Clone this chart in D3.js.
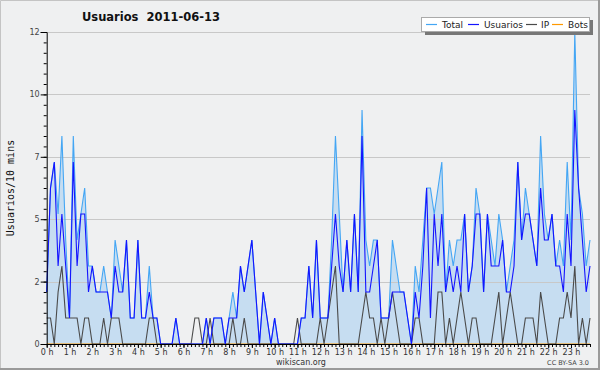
<!DOCTYPE html>
<html><head><meta charset="utf-8">
<script src="https://cdn.jsdelivr.net/npm/d3@7"></script>
<style>
html,body{margin:0;padding:0;background:#eff0f1;}
svg{display:block;}
</style></head>
<body>
<svg id="c" width="600" height="370"></svg>
<script>
const title = "Usuarios  2011-06-13";
const yLabel = "Usuarios/10 mins";
const hourLabels = d3.range(24).map(h => h + " h");
const yTickValues = [0, 2.4, 4.8, 7.2, 9.6, 12];
const yTickLabels = ["0", "2", "5", "7", "10", "12"];
const seriesNames = ["Total", "Usuarios", "IP", "Bots"];
const seriesColors = ["#44a6f4", "#1414ff", "#4a4a4a", "#ff9900"];

const total = [2,6,7,5,8,4,1,8,4,5,6,3,3,2,2,3,2,1,4,3,2,4,1,1,4,1,1,3,1,1,
0,0,0,0,1,0,0,0,0,0,0,0,1,0,1,1,1,0,1,2,1,3,2,3,4,2,0,2,1,0,
1,0,0,0,0,0,0,1,1,3,1,4,1,1,1,4,8,5,2,4,2,5,2,9,4,3,4,4,1,1,
1,4,3,2,2,1,0,3,2,4,6,6,5,6,7,2,4,3,4,4,5,2,3,6,5,2,5,4,3,5,
4,2,3,4,7,4,6,5,4,3,8,5,4,5,3,4,3,7,4,12,6,5,3,4];
const usuarios = [2,6,7,3,5,3,1,7,3,5,5,2,3,2,2,2,2,1,3,2,2,4,1,1,4,1,1,2,1,1,
0,0,0,0,1,0,0,0,0,0,0,0,1,0,1,1,1,0,1,1,1,3,2,3,4,2,0,2,1,0,
1,0,0,0,0,0,0,1,1,3,1,4,1,1,1,3,5,3,2,4,2,5,2,8,2,2,3,4,1,1,
1,2,2,2,2,1,0,2,1,3,6,1,5,3,5,2,3,2,3,2,5,2,3,5,5,2,5,3,3,3,
4,2,2,3,7,4,5,5,4,3,6,4,4,5,3,3,2,5,3,9,6,4,2,3];
const ip = [1,1,0,2,3,1,1,1,1,0,1,1,0,0,0,1,0,1,1,1,0,0,0,0,0,0,0,1,1,0,
0,0,0,0,0,0,0,0,0,1,1,0,0,1,0,0,0,0,0,1,0,0,1,0,0,0,0,0,0,0,
0,0,0,0,0,0,1,0,0,0,0,0,1,0,1,2,3,0,0,0,0,0,0,1,2,1,1,0,1,0,
1,2,1,0,0,0,0,1,1,0,0,0,0,2,2,0,1,0,1,2,1,0,1,1,0,0,0,0,1,2,
0,1,2,1,0,0,1,1,1,0,2,1,0,0,0,1,1,2,1,3,0,1,0,1];
const bots = total.map(() => 0);

const svg = d3.select("#c");
const W = 600, H = 370;
const x0 = 46.7, x1 = 590, yTop = 32, yBot = 344;
const x = d3.scaleLinear().domain([0, total.length - 1]).range([x0, x1]);
const y = d3.scaleLinear().domain([0, 12]).range([yBot, yTop]);

// frame
svg.append("rect").attr("x", 0).attr("y", 0).attr("width", W).attr("height", H).attr("fill", "#eff0f1");
svg.append("path").attr("d", `M0.5,${H}V0.5H${W}`).attr("fill", "none").attr("stroke", "#c4c4c4");
svg.append("path").attr("d", `M0,${H - 1}H${W - 1}V0`).attr("fill", "none").attr("stroke", "#9a9a9a").attr("stroke-width", 2);

// area fill
svg.append("path").datum(total)
  .attr("d", d3.area().x((d, i) => x(i)).y0(y(0)).y1(d => y(d)))
  .attr("fill", "#c6ddf1");

// grid lines
svg.append("g").selectAll("line").data(yTickValues.slice(1)).join("line")
  .attr("x1", x0).attr("x2", x1).attr("y1", d => Math.round(y(d)) + 0.5).attr("y2", d => Math.round(y(d)) + 0.5)
  .attr("stroke", "#c8c8c8").attr("stroke-width", 1);

const line = d3.line().x((d, i) => x(i)).y(d => y(d));
const seriesData = [total, usuarios, ip, bots];
[3, 0, 2, 1].forEach(k => {
  svg.append("path").datum(seriesData[k]).attr("d", line)
    .attr("fill", "none").attr("stroke", seriesColors[k]).attr("stroke-width", 1.1)
    .attr("stroke-linejoin", "miter");
});

// y axis
const yAxis = d3.axisLeft(y).tickValues(yTickValues)
  .tickFormat((d, i) => yTickLabels[i]).tickSize(6).tickPadding(1);
const gy = svg.append("g").attr("transform", `translate(${x0},0)`).call(yAxis);
gy.select(".domain").attr("stroke", "#000");
gy.selectAll(".tick line").attr("stroke", "#000");
gy.selectAll("text").attr("font-family", "DejaVu Sans").attr("font-size", 8).attr("fill", "#444");
const yMinor = d3.axisLeft(y).tickValues(d3.range(0, 12.01, 0.4)).tickFormat("").tickSize(3);
const gym = svg.append("g").attr("transform", `translate(${x0},0)`).call(yMinor);
gym.select(".domain").remove();
gym.selectAll(".tick line").attr("stroke", "#000");

// x axis
const xAxis = d3.axisBottom(x).tickValues(d3.range(0, 144, 6))
  .tickFormat((d, i) => hourLabels[i]).tickSize(4).tickPadding(1);
const gx = svg.append("g").attr("transform", `translate(0,${yBot})`).call(xAxis);
gx.select(".domain").attr("stroke", "#000").attr("d", `M${x0},0.5H${x1}`);
gx.selectAll(".tick line").attr("stroke", "#000");
gx.selectAll("text").attr("font-family", "DejaVu Sans").attr("font-size", 8).attr("fill", "#333");
const xMinor = d3.axisBottom(x).tickValues(d3.range(0, 144, 1)).tickFormat("").tickSize(3);
const gxm = svg.append("g").attr("transform", `translate(0,${yBot})`).call(xMinor);
gxm.select(".domain").remove();
gxm.selectAll(".tick line").attr("stroke", "#000");

// title
svg.append("text").attr("x", 151).attr("y", 21).attr("text-anchor", "middle")
  .attr("font-family", "DejaVu Sans").attr("font-weight", "bold").attr("font-size", 11.5)
  .style("white-space", "pre").attr("fill", "#111").text(title);

// y label
svg.append("text").attr("transform", "translate(14,188) rotate(-90)").attr("text-anchor", "middle")
  .attr("font-family", "DejaVu Sans Mono").attr("font-size", 10).attr("fill", "#111").text(yLabel);

// footer
svg.append("text").attr("x", 301).attr("y", 365).attr("text-anchor", "middle")
  .attr("font-family", "DejaVu Sans").attr("font-size", 8).attr("fill", "#333").text("wikiscan.org");
svg.append("text").attr("x", 589).attr("y", 365).attr("text-anchor", "end")
  .attr("font-family", "DejaVu Sans").attr("font-size", 6.5).attr("fill", "#444").text("CC BY-SA 3.0");

// legend
const lg = svg.append("g");
lg.append("rect").attr("x", 425).attr("y", 20).attr("width", 168).attr("height", 15).attr("fill", "#777");
lg.append("rect").attr("x", 421.5).attr("y", 17.5).attr("width", 168).attr("height", 14)
  .attr("fill", "#fff").attr("stroke", "#aaa");
const lx = [426, 468, 526, 552];
const tx = [442, 484, 541, 568];
seriesNames.forEach((n, k) => {
  lg.append("line").attr("x1", lx[k]).attr("x2", lx[k] + 11).attr("y1", 24.5).attr("y2", 24.5)
    .attr("stroke", seriesColors[k]).attr("stroke-width", 1.2);
  lg.append("text").attr("x", tx[k]).attr("y", 28).attr("font-family", "DejaVu Sans")
    .attr("font-size", 9).attr("fill", "#222").text(n);
});
</script>
</body></html>
